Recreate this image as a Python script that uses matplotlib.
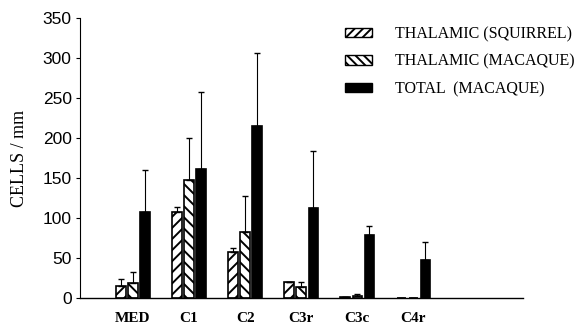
import matplotlib
matplotlib.use("Agg")
import matplotlib.pyplot as plt
import numpy as np
from matplotlib.patches import Patch

categories = ["MED", "C1", "C2", "C3r", "C3c", "C4r"]
squirrel = [15, 108, 58, 20, 1, 0]
squirrel_err = [9, 6, 5, 0, 0, 0]
macaque = [19, 148, 82, 14, 2, 0]
macaque_err = [13, 52, 45, 6, 3, 0]
total = [107, 161, 215, 113, 79, 48]
total_err = [53, 97, 91, 71, 11, 22]
yticks = [0, 50, 100, 150, 200, 250, 300, 350]

plt.rcParams['hatch.linewidth'] = 1.4
fig = plt.figure(figsize=(5.77, 3.26), dpi=100)
ax = fig.add_axes([80/577, 28/326, (523-80)/577, (298-18)/326])

x = np.arange(len(categories))
w = 0.165
off = 0.215
errkw = dict(ecolor='black', elinewidth=0.8, capsize=2.5, capthick=1.0)
ax.bar(x - off, squirrel, w, color='white', edgecolor='black', linewidth=1.2,
       hatch='///', yerr=[np.zeros(len(x)), squirrel_err], error_kw=errkw)
ax.bar(x, macaque, w, color='white', edgecolor='black', linewidth=1.2,
       hatch='\\\\\\', yerr=[np.zeros(len(x)), macaque_err], error_kw=errkw)
ax.bar(x + off, total, w, color='black', edgecolor='black', linewidth=1.2,
       yerr=[np.zeros(len(x)), total_err], error_kw=errkw)

ax.set_xlim(-0.946, 6.96)
ax.set_ylim(0, 350)
ax.set_yticks(yticks)
ax.set_yticklabels([str(v) for v in yticks], family='Liberation Sans', fontsize=12.5)
ax.set_xticks(x)
ax.set_xticklabels(categories, family='Liberation Serif', fontweight='bold', fontsize=11)
ax.tick_params(axis='x', length=0, pad=10)
ax.tick_params(axis='y', length=3, width=0.8, pad=3)
for s in ['top', 'right']:
    ax.spines[s].set_visible(False)
ax.spines['left'].set_linewidth(0.8)
ax.spines['bottom'].set_linewidth(1.0)
ax.set_ylabel("CELLS / mm", family='Liberation Serif', fontsize=13)
ax.yaxis.set_label_coords(-52/443, 0.5)

handles = [Patch(facecolor='white', edgecolor='black', hatch='////', label='THALAMIC (SQUIRREL)'),
           Patch(facecolor='white', edgecolor='black', hatch='\\\\\\\\', label='THALAMIC (MACAQUE)'),
           Patch(facecolor='black', edgecolor='black', label='TOTAL  (MACAQUE)')]
leg = fig.legend(handles=handles, loc='upper left', bbox_to_anchor=(345/577, 1 - 26/326),
                 frameon=False, prop={'family': 'Liberation Serif', 'size': 11.5},
                 borderpad=0, borderaxespad=0,
                 handlelength=1.7, handleheight=0.55, handletextpad=1.45, labelspacing=0.72)

fig.savefig("out.png", dpi=100)
